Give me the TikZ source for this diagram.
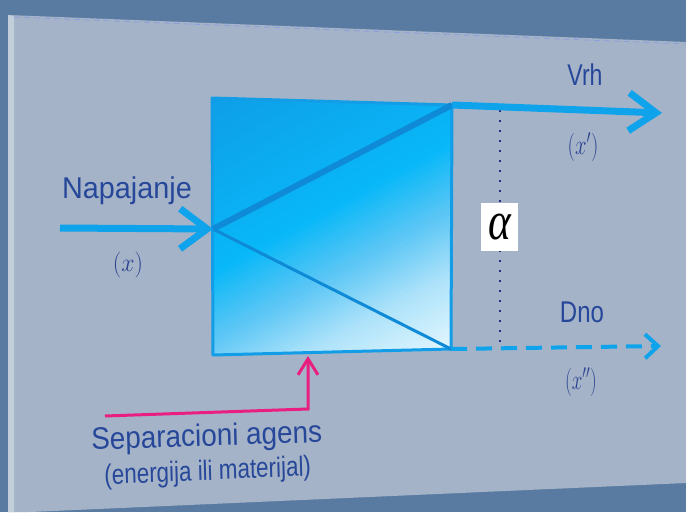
\documentclass[tikz,border=0pt]{standalone}
\usepackage{fontspec}
\newfontfamily\lsans{Liberation Sans}
\newfontfamily\lserif{Liberation Serif}
\usetikzlibrary{arrows.meta}
\definecolor{bgout}{HTML}{5A7BA1}
\definecolor{panel}{HTML}{A4B3C7}
\definecolor{panelrim}{HTML}{C3CEDB}
\definecolor{topline}{HTML}{8A9EE0}
\definecolor{flow}{HTML}{0FA3EC}
\definecolor{inner}{HTML}{0E8AD6}
\definecolor{boxedge}{HTML}{129DE6}
\definecolor{boxA}{HTML}{0E9DE7}
\definecolor{boxM}{HTML}{0BAEF2}
\definecolor{boxB}{HTML}{08B8F8}
\definecolor{boxL}{HTML}{5AC6F5}
\definecolor{boxP}{HTML}{ADE2FA}
\definecolor{boxW}{HTML}{F0FCFF}
\definecolor{txt}{HTML}{27489A}
\definecolor{mtxt}{HTML}{2B4290}
\definecolor{pinkl}{HTML}{E91E80}
\definecolor{dotc}{HTML}{2E2A7E}
% manual gradient strips perpendicular to axis u=(0.477,0.879)
\newcommand\gradseg[4]{%
  \pgfmathtruncatemacro\nn{(#2-#1)/3}%
  \foreach \k in {0,...,\nn}{%
    \pgfmathsetmacro\pa{#1+\k*3}%
    \pgfmathsetmacro\pb{\pa+3.6}%
    \pgfmathsetmacro\w{100*\k/\nn}%
    \fill[#4!\w!#3] (\pa*0.477+351.6,\pa*0.879-190.8) -- (\pb*0.477+351.6,\pb*0.879-190.8)
      -- (\pb*0.477-351.6,\pb*0.879+190.8) -- (\pa*0.477-351.6,\pa*0.879+190.8) -- cycle;
  }}
\tikzset{
  sanslab/.style={text=txt, inner sep=0pt, font=\lsans\fontsize{30}{36}\selectfont},
  mathlab/.style={text=mtxt, inner sep=0pt, font=\fontsize{20}{24}\selectfont},
  flowline/.style={draw=flow, line width=7pt},
}
\begin{document}
\begin{tikzpicture}[x=1pt,y=-1pt]
\useasboundingbox (0,0) rectangle (686,512);
% background and panel
\fill[bgout] (0,0) rectangle (686,512);
\fill[panel] (8,15) -- (686,42) -- (686,483) -- (30,512) -- (8,512) -- cycle;
\fill[panelrim] (8,15) -- (14,16) -- (14,512) -- (8,512) -- cycle;
\draw[topline, line width=0.8pt, dash pattern=on 6pt off 4pt] (14,17) -- (686,44);
% coordinates
\coordinate (TL) at (212,98);
\coordinate (TR) at (452,105);
\coordinate (BR) at (451,349);
\coordinate (BL) at (213,355);
\coordinate (F) at (213,229);
\coordinate (Fin) at (60,228);
\coordinate (Vend) at (662,113);
\coordinate (Dend) at (661,346);
\coordinate (Pin) at (105,416);
\coordinate (Pcorner) at (308,409);
\coordinate (Ptip) at (308,356);
\coordinate (D1) at (500,110);
\coordinate (D2) at (500,346);
% dotted line and alpha
\draw[dotc, line width=2.2pt, dash pattern=on 2pt off 8pt] (D1) -- (D2);
\node[fill=white, minimum width=37pt, minimum height=48pt, inner sep=0pt] (alpha) at (499.5,227)
  {\scalebox{0.8}[1]{\lserif\itshape\fontsize{54}{54}\selectfont α}};
% box with gradient
\begin{scope}
  \clip (TL) -- (TR) -- (BR) -- (BL) -- cycle;
  \gradseg{176}{285}{boxA}{boxM}
  \gradseg{285}{340}{boxM}{boxB}
  \gradseg{340}{398}{boxB}{boxL}
  \gradseg{398}{455}{boxL}{boxP}
  \gradseg{455}{536}{boxP}{boxW}
\end{scope}
\draw[boxedge, line width=3pt, line join=round] (TL) -- (TR) -- (BR) -- (BL) -- cycle;
\draw[inner, line width=6pt] (F) -- (TR);
\draw[inner, line width=3pt] (F) -- (BR);
% flows
\draw[flowline, -{Straight Barb[length=27pt,width=40pt]}] (Fin) -- (F);
\draw[flowline, -{Straight Barb[length=27pt,width=38pt]}] (TR) -- (Vend);
\draw[draw=flow, line width=4pt, dash pattern=on 16pt off 9pt, -{Straight Barb[length=13pt,width=24pt]}] (BR) -- (Dend);
\draw[draw=pinkl, line width=3pt, -{Straight Barb[length=16pt,width=20pt]}] (Pin) -- (Pcorner) -- (Ptip);
% labels
\node[sanslab, anchor=base, xscale=0.96] (nap) at (127,198) {Napajanje};
\node[sanslab, anchor=base, xscale=0.77] (vrh) at (585,85) {Vrh};
\node[sanslab, anchor=base, xscale=0.8] (dno) at (582,322) {Dno};
\node[sanslab, anchor=base, xscale=0.9, rotate=1.7, font=\lsans\fontsize{31}{36}\selectfont] (sep) at (207,446) {Separacioni agens};
\node[sanslab, anchor=base, xscale=0.8, rotate=2, font=\lsans\fontsize{28}{34}\selectfont] (eng) at (208,480) {(energija ili materijal)};
\node[mathlab, xscale=1.15, yscale=1.25] (x0) at (128,265) {$(x)$};
\node[mathlab, xscale=1.0, yscale=1.35] (x1) at (583,147) {$(x')$};
\node[mathlab, xscale=0.92, yscale=1.35] (x2) at (581,382) {$(x'')$};
\end{tikzpicture}
\end{document}
